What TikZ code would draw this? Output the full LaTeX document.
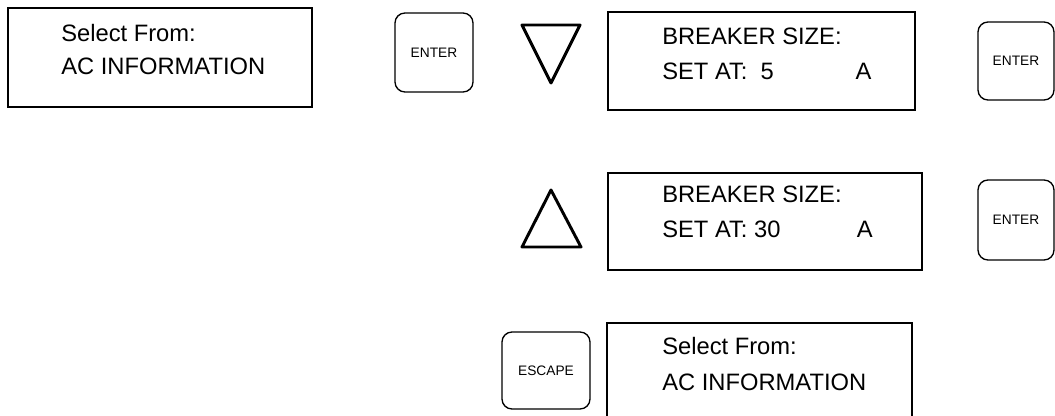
\documentclass[tikz,border=0pt]{standalone}
\usepackage{fontspec}
\setmainfont{Liberation Sans}
\usepackage{tikz}

\begin{document}
\begin{tikzpicture}[x=0.75pt,y=-0.75pt,
	screen/.style={draw,line width=2.2pt,inner sep=0pt},
	readout/.style={anchor=base west,inner sep=0pt,font=\fontsize{17.8}{21}\selectfont},
	keypad/.style={draw,line width=1pt,rounded corners=7.5pt,inner sep=0pt,font=\fontsize{10.3}{12}\selectfont},
	arrowkey/.style={line width=2.2pt,line join=round}]
	\useasboundingbox (0,0) rectangle (1055,416);
	\clip (0,0) rectangle (1055,416);
	% display screens
	\node[screen,minimum width=228pt,minimum height=74.25pt] (scr1) at (160,57.5) {};
	\node[screen,minimum width=230.25pt,minimum height=73.5pt] (scr2) at (761.5,61) {};
	\node[screen,minimum width=235.5pt,minimum height=72.75pt] (scr3) at (765,221.5) {};
	\node[screen,minimum width=228.75pt,minimum height=87.75pt] (scr4) at (759.5,381.5) {};
	% screen texts
	\node[readout] (sel1) at (61,42) {Select From:};
	\node[readout] (ac1) at (61,75) {AC INFORMATION};
	\node[readout] (brk2) at (662,45) {BREAKER SIZE:};
	\node[readout] (set2) at (662,80) {\makebox[145pt][l]{SET AT:\ \ 5}A};
	\node[readout] (brk3) at (662,203) {BREAKER SIZE:};
	\node[readout] (set3) at (662,238) {\makebox[146pt][l]{SET AT: 30}A};
	\node[readout] (sel4) at (662,354) {Select From:};
	\node[readout] (ac4) at (662,390) {AC INFORMATION};
	% keys
	\node[keypad,minimum width=58.5pt,minimum height=59.25pt] (enter1) at (434,52.5) {ENTER};
	\node[keypad,minimum width=57pt,minimum height=58.5pt] (enter2) at (1016,61) {ENTER};
	\node[keypad,minimum width=57pt,minimum height=60pt] (enter3) at (1016,220) {ENTER};
	\node[keypad,minimum width=66pt,minimum height=57.75pt] (escape) at (546,370.5) {ESCAPE};
	% arrow keys
	\draw[arrowkey] (522,25) -- (580,25) -- (551,83) -- cycle;
	\draw[arrowkey] (551,190) -- (581,247) -- (522,247) -- cycle;
\end{tikzpicture}
\end{document}
